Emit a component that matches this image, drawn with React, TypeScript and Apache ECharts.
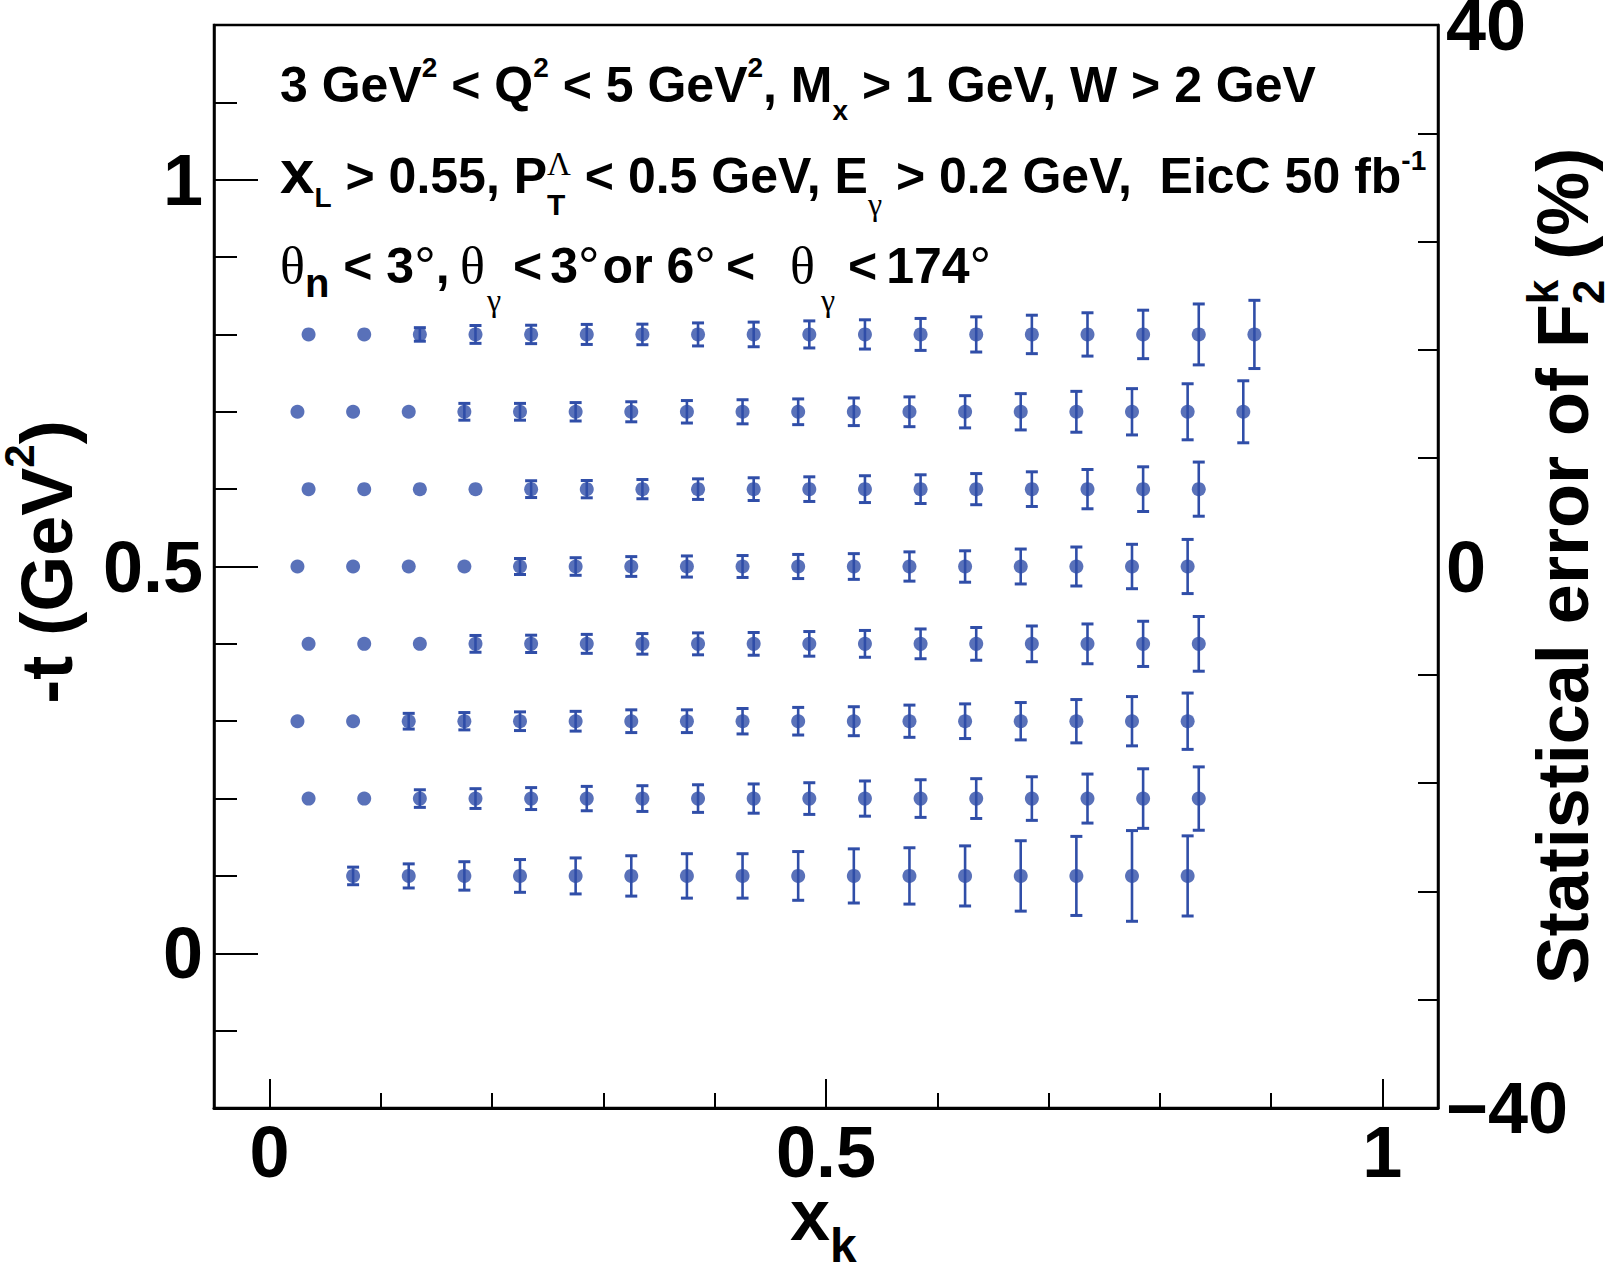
import React, { useEffect, useRef } from "react";
import * as echarts from "echarts";

const W = 1613;
const H = 1266;
const SANS = '"Liberation Sans", Arial, Helvetica, sans-serif';
const SERIF = '"Liberation Serif", "Times New Roman", serif';
const BLUE = "#304ea8";

// axis ranges
const X_MIN = -0.05;
const X_MAX = 1.05;
const T_MIN = -0.2;
const T_MAX = 1.2;
const E_MIN = -40;
const E_MAX = 40;

// tick positions / labels
const xMajorTicks = [0, 0.5, 1];
const xMinorTicks = [0.1, 0.2, 0.3, 0.4, 0.6, 0.7, 0.8, 0.9];
const tMajorTicks = [0, 0.5, 1];
const tMinorTicks = [-0.1, 0.1, 0.2, 0.3, 0.4, 0.6, 0.7, 0.8, 0.9, 1.1];
const errTicks = [-32, -24, -16, -8, 8, 16, 24, 32];
const errLabels = [-40, 0, 40];

// x_k bin centres
const xBinsA = [0.035, 0.085, 0.135, 0.185, 0.235, 0.285, 0.335, 0.385, 0.435, 0.485, 0.535, 0.585, 0.635, 0.685, 0.735, 0.785, 0.835, 0.885];
const xBinsB = [0.025, 0.075, 0.125, 0.175, 0.225, 0.275, 0.325, 0.375, 0.425, 0.475, 0.525, 0.575, 0.625, 0.675, 0.725, 0.775, 0.825, 0.875];

// -t rows
const tRows = [0.8, 0.7, 0.6, 0.5, 0.4, 0.3, 0.2, 0.1];

// statistical errors (%) per row
const err08 = [0.3, 0.35, 0.5, 0.66, 0.68, 0.74, 0.76, 0.85, 0.91, 1.0, 1.08, 1.18, 1.3, 1.42, 1.6, 1.79, 2.25, 2.52];
const err07 = [0.3, 0.33, 0.38, 0.62, 0.62, 0.68, 0.74, 0.83, 0.89, 0.95, 1.02, 1.1, 1.19, 1.34, 1.51, 1.71, 2.07, 2.29];
const err06 = [0.3, 0.32, 0.35, 0.38, 0.62, 0.64, 0.71, 0.76, 0.84, 0.91, 0.99, 1.06, 1.15, 1.28, 1.45, 1.65, 2.0];
const err05 = [0.3, 0.32, 0.35, 0.38, 0.59, 0.65, 0.73, 0.78, 0.81, 0.89, 0.95, 1.08, 1.16, 1.29, 1.44, 1.64, 2.0];
const err04 = [0.3, 0.33, 0.38, 0.62, 0.64, 0.7, 0.76, 0.81, 0.84, 0.91, 0.99, 1.1, 1.21, 1.32, 1.47, 1.67, 2.02];
const err03 = [0.32, 0.36, 0.58, 0.64, 0.69, 0.73, 0.84, 0.84, 0.94, 1.02, 1.07, 1.19, 1.28, 1.38, 1.6, 1.82, 2.08];
const err02 = [0.33, 0.38, 0.65, 0.73, 0.81, 0.9, 0.95, 1.02, 1.08, 1.17, 1.3, 1.39, 1.47, 1.61, 1.81, 2.2, 2.34];
const err01 = [0.65, 0.89, 1.05, 1.21, 1.33, 1.49, 1.64, 1.64, 1.8, 2.0, 2.08, 2.22, 2.6, 2.92, 3.35, 2.96];

const rowX = [
  xBinsA,
  xBinsB,
  xBinsA.slice(0, 17),
  xBinsB.slice(0, 17),
  xBinsA.slice(0, 17),
  xBinsB.slice(0, 17),
  xBinsA.slice(0, 17),
  xBinsB.slice(1, 17),
];
const rowErr = [err08, err07, err06, err05, err04, err03, err02, err01];

// ---- text layout helpers ----
type Seg = {
  t: string;
  size: number;
  dy?: number;
  serif?: boolean;
  normal?: boolean;
  stack?: boolean;
  at?: number;
  gap?: number;
};

let measureCtx: CanvasRenderingContext2D | null = null;
function measure(text: string, font: string, size: number) {
  if (!measureCtx) measureCtx = document.createElement("canvas").getContext("2d");
  const ctx = measureCtx!;
  ctx.font = font;
  const m = ctx.measureText(text);
  const a = (m as any).fontBoundingBoxAscent;
  const d = (m as any).fontBoundingBoxDescent;
  const central = a != null && d != null ? (a - d) / 2 : 0.3465 * size;
  return { w: m.width, central };
}

function buildLine(segs: Seg[], color = "#000") {
  let x = 0;
  let stackW = 0;
  const children: any[] = [];
  for (const s of segs) {
    if (s.at != null) x = s.at;
    x += s.gap || 0;
    const font = `${s.serif || s.normal ? "normal" : "bold"} ${s.size}px ${s.serif ? SERIF : SANS}`;
    const lead = s.t.length - s.t.replace(/^ +/, "").length;
    const trail = s.t.length - s.t.replace(/ +$/, "").length;
    const core = s.t.trim();
    const sp = measure(" ", font, s.size).w;
    const m = measure(core, font, s.size);
    const x0 = x + lead * sp;
    children.push({
      type: "text",
      x: x0,
      y: (s.dy || 0) - m.central,
      silent: true,
      style: { text: core, font, fill: color, align: "left", verticalAlign: "middle" },
    });
    const adv = lead * sp + m.w + trail * sp;
    if (s.stack) {
      stackW = Math.max(stackW, adv);
    } else {
      x += Math.max(adv, stackW);
      stackW = 0;
    }
  }
  return { children, width: x };
}

function lineGroup(segs: Seg[], x: number, y: number) {
  const { children } = buildLine(segs);
  return { type: "group", x, y, z: 100, children };
}

function rotatedTitle(segs: Seg[], x: number, y: number) {
  const { children, width } = buildLine(segs);
  children.forEach((c) => (c.x -= width / 2));
  return { type: "group", x, y, rotation: Math.PI / 2, z: 100, children };
}

function buildOption() {
  const points: number[][] = [];
  const dots: number[][] = [];
  tRows.forEach((t, r) => {
    rowX[r].forEach((x, i) => {
      points.push([x, t, rowErr[r][i]]);
      dots.push([x, t]);
    });
  });
  const pctToT = (T_MAX - T_MIN) / (E_MAX - E_MIN);

  const deg: Seg = { t: "°", size: 54, normal: true, dy: 2 };

  const line1: Seg[] = [
    { t: "3 GeV", size: 50 },
    { t: "2", size: 28, dy: -25 },
    { t: " < Q", size: 50 },
    { t: "2", size: 28, dy: -25 },
    { t: " < 5 GeV", size: 50 },
    { t: "2", size: 28, dy: -25 },
    { t: ", M", size: 50 },
    { t: "x", size: 28, dy: 18 },
    { t: " > 1 GeV, W > 2 GeV", size: 50 },
  ];
  const line2: Seg[] = [
    { t: "x", size: 62 },
    { t: "L", size: 28, dy: 14 },
    { t: " > 0.55, P", size: 50 },
    { t: "Λ", size: 33, dy: -18, serif: true, stack: true },
    { t: "T", size: 30, dy: 22 },
    { t: " < 0.5 GeV, E", size: 50 },
    { t: "γ", size: 32, dy: 22, serif: true },
    { t: " > 0.2 GeV, ", size: 50 },
    { t: " EicC 50 fb", size: 50 },
    { t: "-1", size: 28, dy: -23 },
  ];
  const line3: Seg[] = [
    { t: "θ", size: 52, serif: true },
    { t: "n", size: 40, dy: 14 },
    { t: " < 3", size: 50 },
    { ...deg },
    { t: ",", size: 50 },
    { t: "θ", size: 52, serif: true, at: 180 },
    { t: "γ", size: 32, dy: 28, serif: true, gap: 2 },
    { t: "<", size: 50, at: 233 },
    { t: "3", size: 50, gap: 8 },
    { ...deg },
    { t: "or 6", size: 50, gap: 3 },
    { ...deg },
    { t: "<", size: 50, gap: 10 },
    { t: "θ", size: 52, serif: true, at: 510 },
    { t: "γ", size: 32, dy: 28, serif: true, gap: 6 },
    { t: "<", size: 50, at: 568 },
    { t: "174", size: 50, gap: 9 },
    { ...deg },
  ];

  const labelStyle = { color: "#000", fontSize: 72, fontWeight: "bold", fontFamily: SANS };
  const tickLine = { color: "#000", width: 2 };

  return {
    animation: false,
    backgroundColor: "#fff",
    grid: [
      { left: 214, top: 25, width: 1224, height: 1083, show: true, borderColor: "#000", borderWidth: 2.5, containLabel: false, outerBoundsMode: "none" },
      { left: 214, top: 25, width: 1224, height: 1083, show: false, containLabel: false, outerBoundsMode: "none" },
    ],
    xAxis: [
      {
        gridIndex: 0, type: "value", min: X_MIN, max: X_MAX, position: "bottom",
        axisLine: { show: true, onZero: false, lineStyle: { color: "#000", width: 3 } },
        axisTick: { show: true, inside: true, length: 29, customValues: xMajorTicks, lineStyle: tickLine },
        axisLabel: { show: true, customValues: xMajorTicks, margin: 8, ...labelStyle },
        splitLine: { show: false },
      },
      {
        gridIndex: 1, type: "value", min: X_MIN, max: X_MAX, position: "bottom",
        axisLine: { show: false, onZero: false },
        axisTick: { show: true, inside: true, length: 15, customValues: xMinorTicks, lineStyle: tickLine },
        axisLabel: { show: false },
        splitLine: { show: false },
      },
    ],
    yAxis: [
      {
        gridIndex: 0, type: "value", min: T_MIN, max: T_MAX, position: "left",
        axisLine: { show: true, onZero: false, lineStyle: { color: "#000", width: 2.5 } },
        axisTick: { show: true, inside: true, length: 44, customValues: tMajorTicks, lineStyle: tickLine },
        axisLabel: { show: true, customValues: tMajorTicks, margin: 11, ...labelStyle },
        splitLine: { show: false },
      },
      {
        gridIndex: 0, type: "value", min: E_MIN, max: E_MAX, position: "right",
        axisLine: { show: true, onZero: false, lineStyle: { color: "#000", width: 2.5 } },
        axisTick: { show: true, inside: true, length: 20, customValues: errTicks, lineStyle: tickLine },
        axisLabel: {
          show: true, customValues: errLabels, margin: 8, ...labelStyle,
          formatter: (v: number) => (v < 0 ? "\u2212" + Math.abs(v) : String(v)),
        },
        splitLine: { show: false },
      },
      {
        gridIndex: 1, type: "value", min: T_MIN, max: T_MAX, position: "left",
        axisLine: { show: false, onZero: false },
        axisTick: { show: true, inside: true, length: 23, customValues: tMinorTicks, lineStyle: tickLine },
        axisLabel: { show: false },
        splitLine: { show: false },
      },
    ],
    series: [
      {
        type: "custom",
        xAxisIndex: 0,
        yAxisIndex: 0,
        z: 2,
        clip: false,
        data: points,
        renderItem: (params: any, api: any) => {
          const x = api.value(0);
          const y = api.value(1);
          const e = api.value(2);
          const c = api.coord([x, y]);
          const half = Math.abs(api.size([0, e * pctToT])[1]);
          if (half < 6) return { type: "group", children: [] };
          const cap = 6;
          return {
            type: "group",
            children: [
              { type: "line", shape: { x1: c[0], y1: c[1] - half, x2: c[0], y2: c[1] + half }, style: { stroke: BLUE, lineWidth: 2.6 } },
              { type: "line", shape: { x1: c[0] - cap, y1: c[1] - half, x2: c[0] + cap, y2: c[1] - half }, style: { stroke: BLUE, lineWidth: 3 } },
              { type: "line", shape: { x1: c[0] - cap, y1: c[1] + half, x2: c[0] + cap, y2: c[1] + half }, style: { stroke: BLUE, lineWidth: 3 } },
            ],
          };
        },
      },
      {
        type: "scatter",
        xAxisIndex: 0,
        yAxisIndex: 0,
        z: 3,
        symbol: "circle",
        symbolSize: 14,
        itemStyle: { color: BLUE },
        data: dots,
      },
    ],
    graphic: [
      lineGroup(line1, 280, 102),
      lineGroup(line2, 280, 193),
      lineGroup(line3, 280, 283),
      lineGroup([{ t: "x", size: 72 }, { t: "k", size: 48, dy: 22 }], 790, 1240),
      rotatedTitle([{ t: "-t (GeV", size: 72 }, { t: "2", size: 42, dy: -38 }, { t: ")", size: 72 }], 72, 562),
      rotatedTitle(
        [
          { t: "Statistical error of F", size: 72 },
          { t: "k", size: 44, dy: -30, stack: true },
          { t: "2", size: 44, dy: 16 },
          { t: " (%)", size: 72 },
        ],
        1588,
        566
      ),
    ],
  };
}

export default function App() {
  const ref = useRef<HTMLDivElement>(null);
  useEffect(() => {
    if (!ref.current) return;
    const chart = echarts.init(ref.current, null, { renderer: "svg" });
    chart.setOption(buildOption() as any);
    return () => chart.dispose();
  }, []);
  return (
    <div
      ref={ref}
      style={{ position: "fixed", left: 0, top: 0, width: W, height: H, background: "#fff" }}
    />
  );
}
